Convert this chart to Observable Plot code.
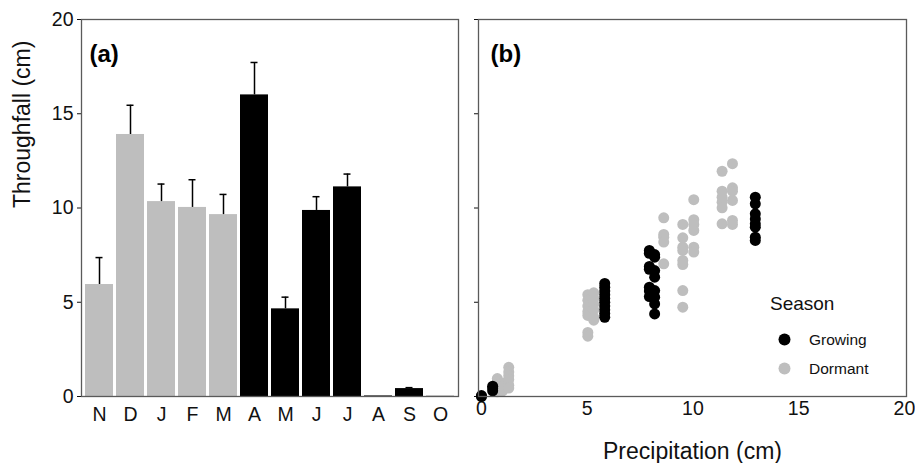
<!DOCTYPE html>
<html>
<head>
<meta charset="utf-8">
<script src="https://cdn.jsdelivr.net/npm/d3@7"></script>
<script src="https://cdn.jsdelivr.net/npm/@observablehq/plot@0.6"></script>
<style>
  html, body { margin: 0; padding: 0; background: #fff; }
  #wrap { position: relative; width: 915px; height: 463px; font-family: "Liberation Sans", Arial, sans-serif; color: #111; }
  #wrap > .pa { position: absolute; left: 0; top: 0; }
  #wrap > .pb { position: absolute; left: 465px; top: 0; }
  #legend { position: absolute; left: 770px; top: 292px; }
  #legend .title { font-size: 19px; line-height: 24px; margin-bottom: 9px; }
  #legend .row { display: flex; align-items: center; height: 29px; font-size: 15.5px; }
  #legend .row svg { margin-left: 8px; margin-right: 18px; }
</style>
</head>
<body>
<div id="wrap"></div>
<script>
// ---- Panel (a): monthly throughfall ----
const months = ["N", "D", "J", "F", "M", "A", "M", "J", "J", "A", "S", "O"];
const monthSeason = ["Dormant", "Dormant", "Dormant", "Dormant", "Dormant", "Growing", "Growing", "Growing", "Growing", "Growing", "Growing", "Dormant"];
const throughfall = [5.94, 13.9, 10.34, 10.03, 9.65, 16.0, 4.65, 9.87, 11.12, 0.03, 0.42, 0.04];
const throughfallSE = [1.43, 1.55, 0.93, 1.47, 1.07, 1.72, 0.62, 0.73, 0.68, 0, 0.05, 0];
const yTicks = [0, 5, 10, 15, 20];

// ---- Panel (b): throughfall vs precipitation ----
const growingPrecip = [0, 0.53, 5.83, 7.94, 8.19, 12.95];
const growingThroughfall = [
  [0.0, 0.05],
  [0.55, 0.45, 0.3],
  [6.0, 5.8, 5.6, 5.4, 5.2, 5.0, 4.8, 4.6, 4.4, 4.2],
  [7.75, 7.6, 6.9, 6.75, 5.8, 5.6, 5.3],
  [7.53, 7.39, 6.68, 6.33, 5.62, 5.27, 4.91, 4.38],
  [10.57, 10.22, 9.69, 9.42, 9.16, 8.98, 8.45, 8.28]
];
const dormantPrecip = [0.75, 1.0, 1.29, 5.03, 5.31, 8.62, 9.52, 10.04, 11.38, 11.87];
const dormantThroughfall = [
  [0.95, 0.8, 0.6, 0.4, 0.25],
  [0.7, 0.5, 0.3],
  [1.55, 1.3, 1.1, 0.9, 0.6, 0.45],
  [5.4, 5.1, 4.8, 4.5, 4.3, 3.4, 3.2],
  [5.5, 5.2, 4.9, 4.6, 4.2, 4.05],
  [9.48, 8.6, 8.45, 8.19, 7.04],
  [9.13, 8.42, 7.92, 7.75, 7.22, 7.0, 5.62, 4.74],
  [10.44, 9.38, 9.13, 8.81, 7.92, 7.66],
  [11.95, 10.89, 10.57, 10.31, 10.01, 9.16],
  [12.35, 11.07, 10.89, 10.4, 9.34, 9.13]
];
const xTicks = [0, 5, 10, 15, 20];

const seasonColors = {Growing: "#000000", Dormant: "#bebebe"};
const FONT = "'Liberation Sans', Arial, Helvetica, sans-serif";
const frameColor = "#5a5a5a";

const barData = months.map((m, i) => ({
  i, month: m, season: monthSeason[i],
  value: throughfall[i], hi: throughfall[i] + throughfallSE[i]
}));

const pts = [];
dormantPrecip.forEach((p, k) => dormantThroughfall[k].forEach(t => pts.push({precip: p, tf: t, season: "Dormant"})));
growingPrecip.forEach((p, k) => growingThroughfall[k].forEach(t => pts.push({precip: p, tf: t, season: "Growing"})));

const panelA = Plot.plot({
  width: 465, height: 463,
  marginLeft: 81, marginRight: 7, marginTop: 19, marginBottom: 67,
  style: {fontFamily: FONT, fontSize: "19.5px", color: "#111", background: "white"},
  x: {domain: d3.range(months.length), padding: 0.1, tickFormat: i => months[i], tickSize: 0, tickPadding: 11, label: null},
  y: {domain: [0, 20], ticks: yTicks, tickSize: 4, tickPadding: 4, label: null},
  marks: [
    Plot.barY(barData, {x: "i", y: "value", fill: d => seasonColors[d.season]}),
    Plot.ruleX(barData.filter(d => d.hi > d.value), {x: "i", y1: "value", y2: "hi", stroke: "#000", strokeWidth: 1.5}),
    Plot.tickY(barData.filter(d => d.hi > d.value), {x: "i", y: "hi", stroke: "#000", strokeWidth: 1.5, insetLeft: 10.5, insetRight: 10.5}),
    Plot.frame({stroke: frameColor, strokeWidth: 1.3}),
    Plot.text(["(a)"], {frameAnchor: "top-left", dx: 8, dy: 25, fontWeight: "bold", fontSize: 24, fill: "#000"}),
    Plot.text(["Throughfall (cm)"], {frameAnchor: "left", dx: -59, rotate: -90, fontSize: 23, fill: "#111"})
  ]
});
panelA.classList.add("pa");

const panelB = Plot.plot({
  width: 450, height: 463,
  marginLeft: 13, marginRight: 9, marginTop: 19, marginBottom: 67,
  style: {fontFamily: FONT, fontSize: "19.5px", color: "#111", background: "white"},
  x: {domain: [-0.14, 20.1], ticks: xTicks, tickSize: 0, tickPadding: 5, label: null},
  y: {domain: [0, 20], ticks: yTicks, tickSize: 4, tickFormat: () => "", label: null},
  marks: [
    Plot.dot(pts.filter(d => d.season === "Dormant"), {x: "precip", y: "tf", r: 5.5, fill: seasonColors.Dormant, stroke: "none"}),
    Plot.dot(pts.filter(d => d.season === "Growing"), {x: "precip", y: "tf", r: 5.5, fill: seasonColors.Growing, stroke: "none"}),
    Plot.frame({stroke: frameColor, strokeWidth: 1.3}),
    Plot.text(["(b)"], {frameAnchor: "top-left", dx: 12, dy: 25, fontWeight: "bold", fontSize: 24, fill: "#000"}),
    Plot.text(["Precipitation (cm)"], {frameAnchor: "bottom", dy: 62, fontSize: 23, fill: "#111"})
  ]
});
panelB.classList.add("pb");

const wrap = document.getElementById("wrap");
wrap.appendChild(panelA);
wrap.appendChild(panelB);

// Legend
const legend = document.createElement("div");
legend.id = "legend";
const title = document.createElement("div");
title.className = "title";
title.textContent = "Season";
legend.appendChild(title);
["Growing", "Dormant"].forEach(s => {
  const row = document.createElement("div");
  row.className = "row";
  row.innerHTML = `<svg width="13" height="13"><circle cx="6.5" cy="6.5" r="6" fill="${seasonColors[s]}"/></svg><span>${s}</span>`;
  legend.appendChild(row);
});
wrap.appendChild(legend);
</script>
</body>
</html>
